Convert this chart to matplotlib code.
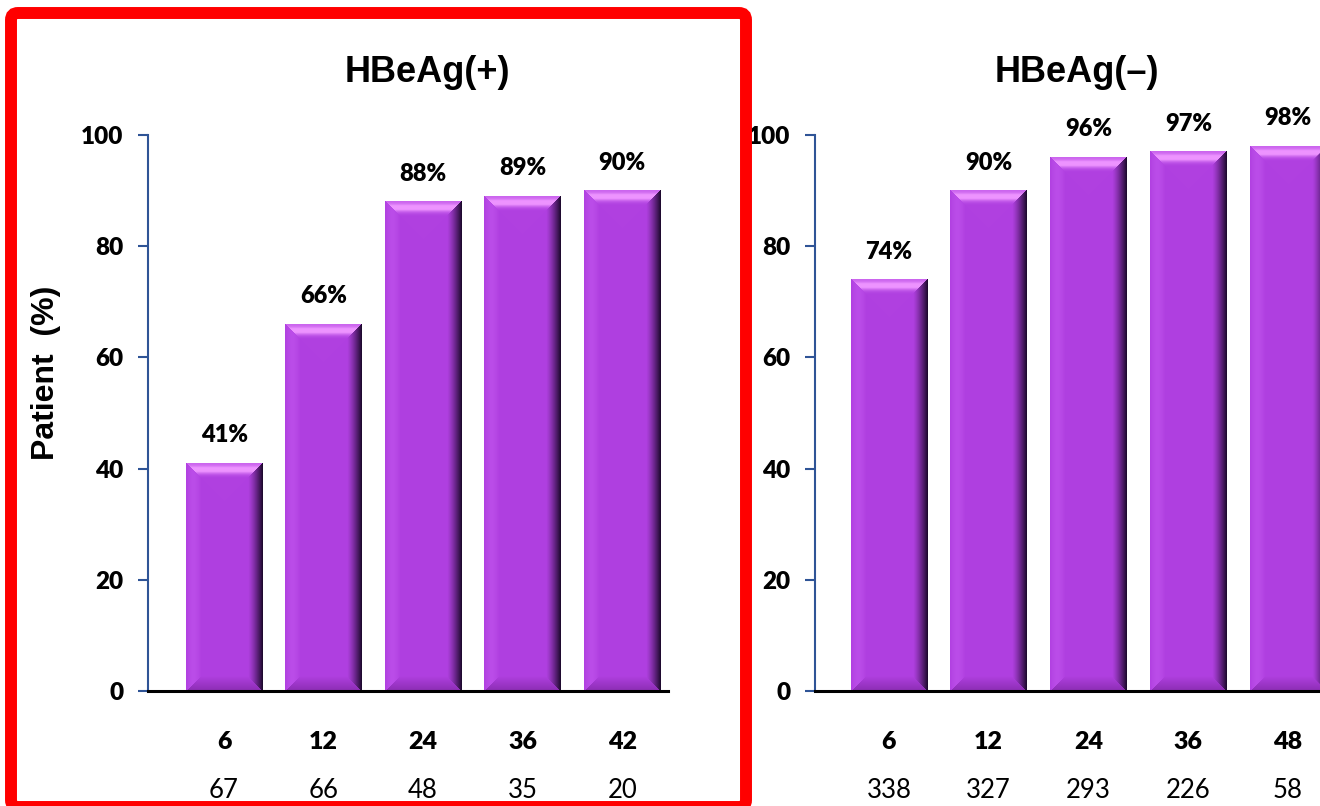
import numpy as np
import matplotlib.pyplot as plt
from matplotlib.patches import FancyBboxPatch

# HBeAg(+) cohort
months_pos = ['6', '12', '24', '36', '42']
rate_pos = [41, 66, 88, 89, 90]
n_pos = [67, 66, 48, 35, 20]

# HBeAg(-) cohort
months_neg = ['6', '12', '24', '36', '48']
rate_neg = [74, 90, 96, 97, 98]
n_neg = [338, 327, 293, 226, 58]

yticks = [0, 20, 40, 60, 80, 100]

BASE = np.array([0.69, 0.25, 0.88])
HIGHLIGHT = np.array([0.93, 0.58, 1.00])
DARK = np.array([0.10, 0.03, 0.16])
LOW = np.array([0.45, 0.13, 0.58])
LIGHT = np.array([0.78, 0.36, 0.95])
AXIS_BLUE = '#2F5496'
NUM_FONT = 'Lato'
NUM_WEIGHT = 'heavy'
HEAD_FONT = 'Liberation Sans'


def bevel_image(w, h, b=15):
    """RGB image of a bevelled bar face, w x h pixels."""
    X, Y = np.meshgrid(np.arange(w) + 0.5, np.arange(h) + 0.5)
    d = np.stack([X, w - X, Y, h - Y])  # left, right, top, bottom
    side = d.argmin(0)
    t = np.clip(d.min(0) / b, 0, 1)[..., None]
    img = np.empty((h, w, 3))
    img[:] = BASE

    k_top = np.clip(0.4 * (1 - t) + 0.95 * np.exp(-((t - 0.45) / 0.25) ** 2), 0, 1)
    top = BASE + (HIGHLIGHT - BASE) * k_top
    right = BASE + (DARK - BASE) * (1 - t) ** 1.3
    left = BASE + (LIGHT - BASE) * 0.45 * np.sin(np.pi * t)
    bottom = BASE + (LOW - BASE) * 0.6 * (1 - t)

    for s, col in enumerate([left, right, top, bottom]):
        m = side == s
        img[m] = col[m]
    return np.clip(img, 0, 1)


def draw_panel(ax, months, rates, counts, xlim):
    x = np.arange(len(months))
    ax.set_xlim(*xlim)
    ax.set_ylim(0, 100)
    bars = ax.bar(x, rates, width=0.77, color=BASE, zorder=2)
    for bar in bars:
        x0 = bar.get_x()
        x1 = x0 + bar.get_width()
        (px0, py0), (px1, py1) = ax.transData.transform([[x0, 0], [x1, bar.get_height()]])
        img = bevel_image(int(round(px1 - px0)), int(round(py1 - py0)))
        ax.imshow(img, extent=(x0, x1, 0, bar.get_height()), aspect='auto',
                  interpolation='bilinear', zorder=3)
    ax.set_xlim(*xlim)
    ax.set_ylim(0, 100)

    for xi, r in zip(x, rates):
        ax.annotate(f'{r}%', (xi, r), xytext=(0, 20), textcoords='offset points',
                    ha='center', va='center', fontsize=17, fontweight=NUM_WEIGHT,
                    family=NUM_FONT)
    for xi, m, n in zip(x, months, counts):
        ax.annotate(m, (xi, 0), xycoords=('data', 'axes fraction'), xytext=(0, -37),
                    textcoords='offset points', ha='center', va='center',
                    fontsize=18, fontweight=NUM_WEIGHT, family=NUM_FONT)
        ax.annotate(str(n), (xi, 0), xycoords=('data', 'axes fraction'), xytext=(0, -72),
                    textcoords='offset points', ha='center', va='center',
                    fontsize=18.5, family=NUM_FONT)

    ax.set_xticks([])
    ax.set_yticks(yticks)
    ax.tick_params(axis='y', direction='out', length=7.5, width=1.5,
                   color=AXIS_BLUE, pad=10, labelsize=17.5)
    for lbl in ax.get_yticklabels():
        lbl.set_fontweight(NUM_WEIGHT)
        lbl.set_family(NUM_FONT)
    for s in ['top', 'right']:
        ax.spines[s].set_visible(False)
    ax.spines['left'].set_color(AXIS_BLUE)
    ax.spines['left'].set_linewidth(1.5)
    ax.spines['bottom'].set_color('black')
    ax.spines['bottom'].set_linewidth(2.2)
    ax.spines['bottom'].set_zorder(4)


fig = plt.figure(figsize=(13.2, 8.06), dpi=100)
ax1 = fig.add_axes([148 / 1320, 115 / 806, 520 / 1320, 556 / 806])
ax2 = fig.add_axes([815 / 1320, 115 / 806, 505 / 1320, 556 / 806])

draw_panel(ax1, months_pos, rate_pos, n_pos, (-0.764, 4.46))
draw_panel(ax2, months_neg, rate_neg, n_neg, (-0.741, 4.32))

fig.text(427 / 1320, 1 - 73 / 806, 'HBeAg(+)', ha='center', va='center',
         fontsize=26, fontweight='bold', family=HEAD_FONT)
fig.text(1077 / 1320, 1 - 73 / 806, 'HBeAg(\u2013)', ha='center', va='center',
         fontsize=26, fontweight='bold', family=HEAD_FONT)
fig.text(46 / 1320, 1 - 373 / 806, 'Patient  (%)', rotation=90, ha='center',
         va='center', fontsize=23, fontweight='bold', family=HEAD_FONT)

# red frame around the HBeAg(+) panel
frame = FancyBboxPatch((0.11, -0.01), 7.35, 7.94,
                       boxstyle='round,pad=0,rounding_size=0.07',
                       transform=fig.dpi_scale_trans, facecolor='none',
                       edgecolor='#FF0000', linewidth=8.6, zorder=10)
fig.patches.append(frame)

fig.savefig('out.png', dpi=100)
